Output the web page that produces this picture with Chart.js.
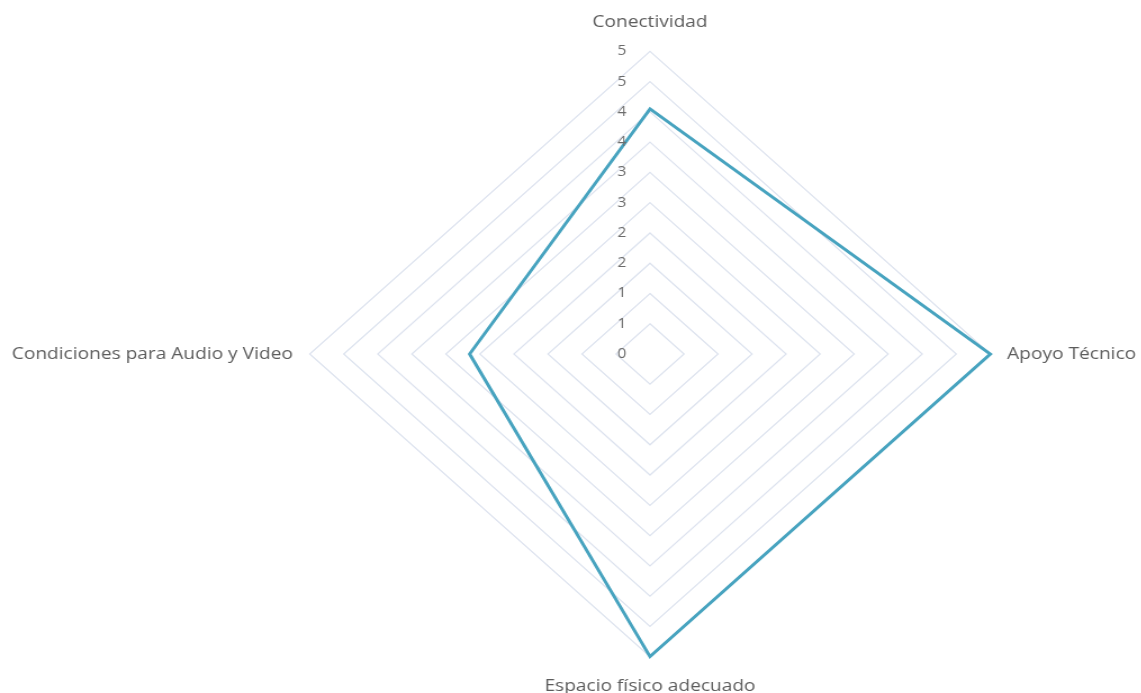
<!DOCTYPE html>
<html>
<head>
<meta charset="utf-8">
<title>Radar</title>
<script src="https://cdn.jsdelivr.net/npm/chart.js@4.4.1/dist/chart.umd.min.js"></script>
<style>
  html, body { margin: 0; padding: 0; background: #ffffff; overflow: hidden; width: 1141px; height: 693px; }
  #wrap { position: relative; width: 1141px; height: 693px; overflow: hidden; }
  #c { position: absolute; left: -81.25px; top: 0; }
</style>
</head>
<body>
<div id="wrap">
  <canvas id="c" width="1300" height="720" style="width:1462.5px;height:720px"></canvas>
</div>
<script>
// Axis categories, clockwise from the top
const categories = ['Conectividad', 'Apoyo Técnico', 'Espacio físico adecuado', 'Condiciones para Audio y Video'];
// Series values
const values = [4.05, 5, 5, 2.65];
// Radial tick labels (steps of 0.5 shown with no decimals)
const tickLabels = ['0', '1', '1', '2', '2', '3', '3', '4', '4', '5', '5'];

// Tick labels are drawn beside the vertical axis, including the zero at the centre
const tickLabelPlugin = {
  id: 'sideTickLabels',
  afterDraw(chart) {
    const s = chart.scales.r;
    const ctx = chart.ctx;
    ctx.save();
    ctx.font = '14px "Open Sans"';
    ctx.fillStyle = '#6c6c6c';
    ctx.textAlign = 'center';
    ctx.textBaseline = 'middle';
    s.ticks.forEach((t, i) => {
      const d = s.getDistanceFromCenterForValue(t.value);
      ctx.fillText(tickLabels[i], s.xCenter - 25, s.yCenter - d);
    });
    ctx.restore();
  }
};

new Chart(document.getElementById('c'), {
  type: 'radar',
  data: {
    labels: categories,
    datasets: [{
      data: values,
      borderColor: '#47a3bf',
      borderWidth: 3,
      borderJoinStyle: 'miter',
      backgroundColor: 'rgba(0,0,0,0)',
      fill: false,
      pointRadius: 0,
      pointHoverRadius: 0
    }]
  },
  options: {
    responsive: false,
    animation: false,
    devicePixelRatio: 1,
    layout: { padding: { top: 12, bottom: 23, left: 0, right: 0 } },
    plugins: {
      legend: { display: false },
      tooltip: { enabled: false }
    },
    scales: {
      r: {
        min: 0,
        max: 5,
        ticks: { stepSize: 0.5, display: false },
        grid: { color: '#dce2ee', lineWidth: 1.2 },
        angleLines: { display: false },
        pointLabels: {
          color: '#5c5c5c',
          font: { family: 'Open Sans', size: 17 },
          padding: (ctx) => (ctx.index % 2 === 0 ? 19 : 15)
        }
      }
    }
  },
  plugins: [tickLabelPlugin]
});
</script>
</body>
</html>
